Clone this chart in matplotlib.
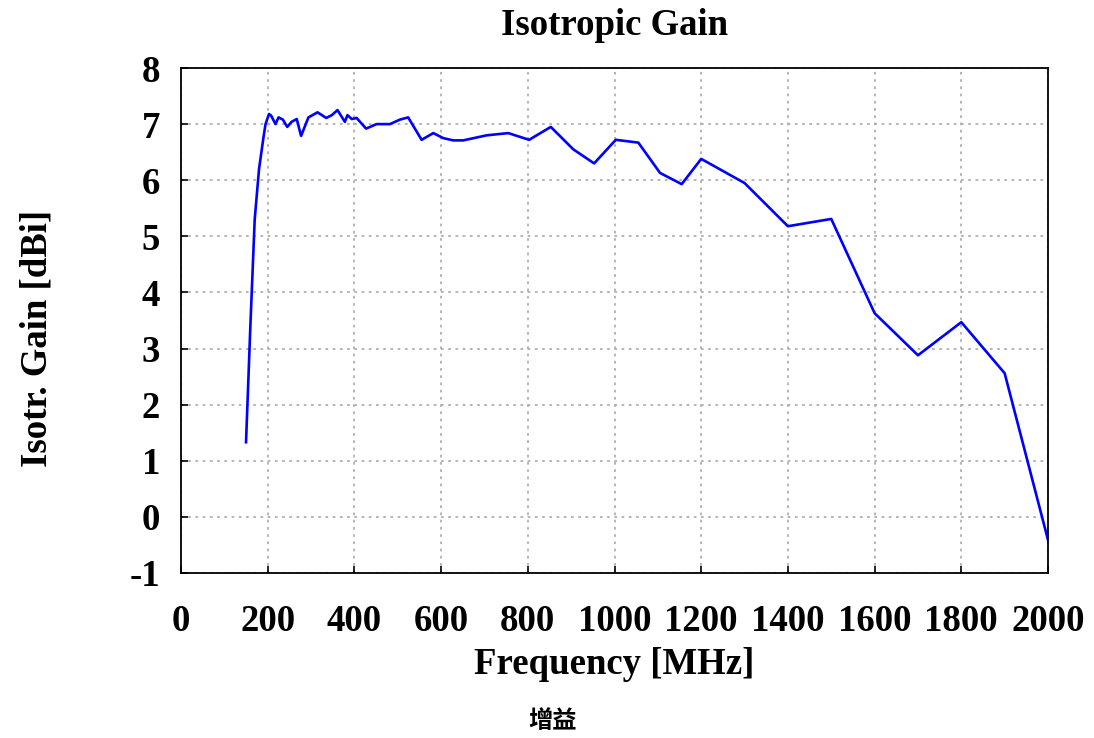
import matplotlib
matplotlib.use("Agg")
import matplotlib.pyplot as plt

plt.rcParams["axes.unicode_minus"] = False

freq_mhz = [150, 160, 170, 180, 190, 195, 203, 208, 218, 225, 235, 245, 255, 267, 277,
            294, 315, 335, 348, 361, 378, 384, 394, 405, 427, 451, 482, 505, 524,
            555, 582, 605, 628, 651, 705, 755, 803, 853, 905, 953, 1003, 1055,
            1105, 1155, 1200, 1300, 1400, 1500, 1600, 1700, 1800, 1900, 2000]
gain_dbi = [1.33, 3.4, 5.3, 6.2, 6.75, 7.0, 7.18, 7.15, 7.0, 7.12, 7.08, 6.95, 7.04, 7.09, 6.79,
            7.12, 7.21, 7.11, 7.16, 7.25, 7.04, 7.16, 7.09, 7.11, 6.92, 7.0, 7.0, 7.08, 7.12,
            6.72, 6.84, 6.75, 6.71, 6.71, 6.80, 6.84, 6.72, 6.95, 6.55, 6.30, 6.72, 6.67,
            6.13, 5.93, 6.38, 5.95, 5.18, 5.31, 3.63, 2.88, 3.47, 2.56, -0.41]

x_ticks = [0, 200, 400, 600, 800, 1000, 1200, 1400, 1600, 1800, 2000]
y_ticks = [-1, 0, 1, 2, 3, 4, 5, 6, 7, 8]

serif = ["Liberation Serif", "DejaVu Serif"]

fig = plt.figure(figsize=(10.94, 7.38), dpi=100)
ax = fig.add_axes([181/1094, 1-573/738, (1048-181)/1094, (573-68)/738])
ax.plot(freq_mhz, gain_dbi, color="#0000ff", lw=1.9)
ax.set_xlim(0, 2000)
ax.set_ylim(-1, 8)
ax.set_xticks(x_ticks)
ax.set_yticks(y_ticks)
ax.grid(True, color="#b0b0b0", linestyle=(0, (1.5, 2.5)), linewidth=1.3)
for s in ax.spines.values():
    s.set_linewidth(1.3)
    s.set_color("black")
ax.tick_params(direction="in", length=5, width=1.2)
ax.tick_params(axis="x", pad=22)
ax.tick_params(axis="y", pad=15)
for lab in ax.get_xticklabels() + ax.get_yticklabels():
    lab.set_fontfamily(serif)
    lab.set_fontweight("bold")
    lab.set_fontsize(26.5)
ax.set_title("Isotropic Gain", family=serif, fontweight="bold", fontsize=26.5, pad=24)
ax.set_xlabel("Frequency [MHz]", family=serif, fontweight="bold", fontsize=26.5, labelpad=6)
ax.set_ylabel("Isotr. Gain [dBi]", family=serif, fontweight="bold", fontsize=26.5, labelpad=54)
ax.yaxis.label.set_y(0.465)
fig.text(553/1094, 1-721/738, "增益", family=["Noto Sans CJK SC", "DejaVu Sans"],
         fontweight="bold", fontsize=17.5, ha="center", va="center")
fig.savefig("out.png", dpi=100)
